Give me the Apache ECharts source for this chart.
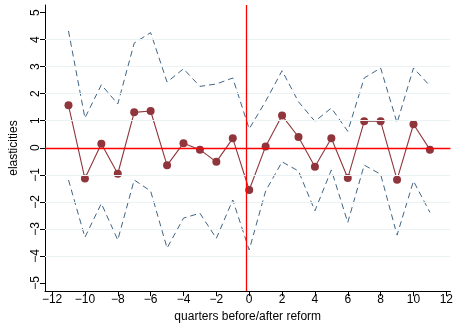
<!DOCTYPE html>
<html>
<head>
<meta charset="utf-8">
<script src="https://cdn.jsdelivr.net/npm/echarts@6/dist/echarts.min.js"></script>
<style>html,body{margin:0;padding:0;background:#fff}#c{width:456px;height:328px}</style>
</head>
<body>
<div id="c"></div>
<script>
const quarters = [-11,-10,-9,-8,-7,-6,-5,-4,-3,-2,-1,0,1,2,3,4,5,6,7,8,9,10,11];
const estimate = [1.57,-1.14,0.15,-0.96,1.31,1.36,-0.65,0.17,-0.07,-0.52,0.35,-1.56,0.05,1.19,0.40,-0.70,0.35,-1.12,0.98,0.98,-1.18,0.87,-0.07];
const upperCI = [4.32,1.10,2.33,1.62,3.87,4.26,2.43,2.92,2.27,2.36,2.58,0.70,1.72,2.85,1.70,0.98,1.47,0.61,2.58,2.95,0.92,2.95,2.29];
const lowerCI = [-1.19,-3.31,-2.06,-3.41,-1.19,-1.60,-3.71,-2.60,-2.42,-3.35,-1.93,-3.78,-1.60,-0.52,-0.86,-2.33,-0.82,-2.76,-0.64,-0.98,-3.23,-1.23,-2.39];
const xTicks = [-12,-10,-8,-6,-4,-2,0,2,4,6,8,10,12];
const yTicks = [-5,-4,-3,-2,-1,0,1,2,3,4,5];
const gridValues = [-4,-3,-2,-1,1,2,3,4];
const reformLine = -0.2;

const pairs = arr => quarters.map((q,i)=>[q,arr[i]]);
const minusFmt = v => String(v).replace('-', '\u2212');
const font = 'Liberation Sans, Arial, sans-serif';

const chart = echarts.init(document.getElementById('c'), null, {renderer:'canvas'});
chart.setOption({
  animation:false,
  grid:{left:43, right:0, top:5, bottom:36, containLabel:false},
  xAxis:{
    type:'value', min:-12.43, max:12.25,
    name:'quarters before/after reform', nameLocation:'middle', nameGap:18,
    nameTextStyle:{color:'#000', fontSize:12, fontFamily:font},
    axisLine:{show:true, onZero:false, lineStyle:{color:'#000', width:1}},
    axisTick:{show:true, length:5, customValues:xTicks, lineStyle:{color:'#000'}},
    axisLabel:{customValues:xTicks, formatter:minusFmt, color:'#000', fontSize:12, fontFamily:font, margin:3},
    splitLine:{show:false}
  },
  yAxis:{
    type:'value', min:-5.3, max:5.28,
    name:'elasticities', nameLocation:'middle', nameGap:25,
    nameTextStyle:{color:'#000', fontSize:12, fontFamily:font},
    axisLine:{show:true, onZero:false, lineStyle:{color:'#000', width:1}},
    axisTick:{show:true, length:5, customValues:yTicks, lineStyle:{color:'#000'}},
    axisLabel:{customValues:yTicks, formatter:minusFmt, rotate:90, color:'#000', fontSize:12, fontFamily:font, margin:3},
    splitLine:{show:false}
  },
  series:[
    {
      type:'line', data:[], silent:true,
      markLine:{silent:true, symbol:'none', animation:false, label:{show:false},
        lineStyle:{color:'#eaf2f3', width:1, type:'solid'},
        data:gridValues.map(v=>({yAxis:v}))}
    },
    {
      type:'line', data:[], silent:true,
      markLine:{silent:true, symbol:'none', animation:false, label:{show:false},
        lineStyle:{color:'#ff0000', width:1.3, type:'solid'},
        data:[{yAxis:0},{xAxis:reformLine}]}
    },
    {
      type:'line', data:pairs(upperCI), symbol:'none',
      lineStyle:{color:'#3f6485', width:1, type:[6,4]}
    },
    {
      type:'line', data:pairs(lowerCI), symbol:'none',
      lineStyle:{color:'#3f6485', width:1, type:[6,4]}
    },
    {
      type:'line', data:pairs(estimate), symbol:'circle', symbolSize:8,
      lineStyle:{color:'#90353b', width:1.1},
      itemStyle:{color:'#90353b', borderWidth:0}
    }
  ]
});
</script>
</body>
</html>
